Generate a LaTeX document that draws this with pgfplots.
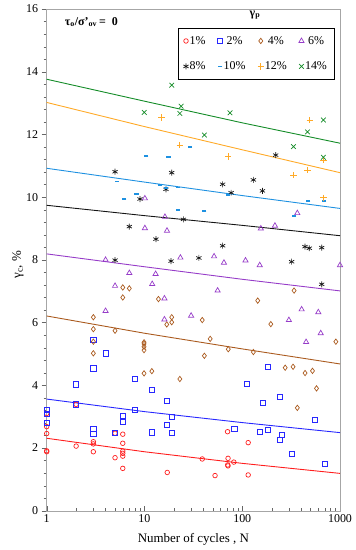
\documentclass[border=0pt]{standalone}
\usepackage{pgfplots}
\pgfplotsset{compat=1.18}
\usepackage{fontspec}
\setmainfont{Liberation Serif}
\definecolor{cRed}{RGB}{255,30,30}
\definecolor{cBlue}{RGB}{40,40,255}
\definecolor{cBrown}{RGB}{170,90,30}
\definecolor{cPurple}{RGB}{150,60,200}
\definecolor{cBlack}{RGB}{20,20,20}
\definecolor{cCyan}{RGB}{30,145,225}
\definecolor{cOrange}{RGB}{255,170,40}
\definecolor{cGreen}{RGB}{20,140,40}
\begin{document}
\begin{tikzpicture}
\begin{axis}[
  scale only axis, width=293.3bp, height=501.7bp,
  xmode=log, xmin=1, xmax=1000, ymin=0, ymax=16,
  xtick={1,10,100,1000}, xticklabels={1,10,100,1000},
  ytick={0,2,...,16}, minor y tick num=4,
  xtick pos=bottom, ytick pos=left,
  /pgf/number format/assume math mode=true,
  tick label style={font=\fontsize{12}{14}\selectfont, black},
  label style={font=\fontsize{13}{15}\selectfont},
  axis line style={draw=gray!70},
  tick style={draw=gray!80!black},
  xtick align=inside, ytick align=outside,
  major tick length=5bp, minor tick length=3bp,
  xlabel={Number of cycles , N},
  xlabel style={at={(axis description cs:0.5,-0.058)}, anchor=center},
  ylabel={γ\textsubscript{c}, \%},
  ylabel style={at={(axis description cs:-0.098,0.49)}, anchor=center},
  legend columns=4,
  legend image code/.code={\draw[#1] plot coordinates {(0bp,0bp)};},
  legend style={draw=black, fill=white, at={(0.98,0.962)}, anchor=north east,
    font=\fontsize{12}{14}\selectfont, row sep=12bp, inner xsep=5bp, inner ysep=6bp,
    /tikz/every odd column/.append style={column sep=-1bp},
    /tikz/every even column/.append style={column sep=10bp}},
  every axis plot/.append style={line width=0.7pt},
]
\coordinate (O) at (rel axis cs:0,0);
% trend lines
\addplot[cRed, line width=0.9pt, forget plot] coordinates {(1,2.31)(10,1.88)(100,1.51)(1000,1.19)};
\addplot[cBlue, line width=0.9pt, forget plot] coordinates {(1,3.56)(10,3.16)(100,2.81)(1000,2.49)};
\addplot[cBrown, line width=0.9pt, forget plot] coordinates {(1,6.21)(10,5.66)(100,5.16)(1000,4.68)};
\addplot[cPurple, line width=0.9pt, forget plot] coordinates {(1,8.19)(10,7.78)(100,7.38)(1000,7.01)};
\addplot[cBlack, line width=0.9pt, forget plot] coordinates {(1,9.74)(10,9.41)(100,9.10)(1000,8.77)};
\addplot[cCyan, line width=0.9pt, forget plot] coordinates {(1,10.92)(10,10.48)(100,10.05)(1000,9.64)};
\addplot[cOrange, line width=0.9pt, forget plot] coordinates {(1,13.02)(10,12.25)(100,11.51)(1000,10.78)};
\addplot[cGreen, line width=0.9pt, forget plot] coordinates {(1,13.76)(10,13.06)(100,12.37)(1000,11.72)};
% 1%
\addplot[only marks, mark=o, mark size=2.3pt, cRed] coordinates {
(1,3.10)(1,2.68)(1,2.46)(1,1.91)(1,1.88)(2,3.39)(2,2.06)(3,2.20)(3,2.13)(3,1.88)
(5,2.47)(5,1.69)(6,2.44)(6,2.15)(6,1.90)(6,1.83)(6,1.74)(6,1.35)(17.1,1.22)(39,1.65)
(52.7,1.12)(70.8,2.52)(71.6,1.67)(82,1.55)(71,1.46)(71.5,1.43)(115,2.17)(115,1.14)};
\addlegendentry{1\%}
% 2%
\addplot[only marks, mark=square, mark size=2.6pt, cBlue] coordinates {
(1,3.21)(1,3.10)(1,2.81)(2,4.03)(2,3.39)(3,5.44)(3,4.54)(3,2.61)(3,2.44)(4,5.02)
(5,2.47)(6,3.03)(6,2.84)(8,4.21)(8,3.21)(11.9,3.85)(12,2.50)(16.9,3.51)(16.9,2.75)
(19,2.99)(19,2.47)(83,2.61)(112,4.04)(151,2.52)(162,3.44)(184,4.59)(184,2.57)
(243,2.25)(244,3.64)(253,2.42)(320,1.81)(548,2.89)(698,1.50)};
\addlegendentry{2\%}
% 4%
\addplot[only marks, mark=diamond, mark size=2.7pt, cBrown] coordinates {
(3,6.17)(3,5.79)(3,5.39)(3,5.02)(5,5.74)(6,7.12)(6,6.80)(7,7.09)(9.9,5.37)(9.9,5.32)
(9.9,5.23)(9.9,5.12)(9.9,4.38)(11.9,4.45)(13.9,6.75)(16.9,5.94)(19,6.17)(19,6.01)
(23,4.20)(39,6.08)(41,4.94)(47,5.48)(72,5.15)(130,5.06)(144,6.70)(196,5.95)(275,4.56)
(331,4.59)(339,7.02)(366,3.28)(439,4.39)(523,4.46)(575,3.90)(907,5.39)};
\addlegendentry{4\%}
% 6%
\addplot[only marks, mark=triangle, mark size=3pt, cPurple] coordinates {
(4,8.0)(4,6.37)(5,7.17)(7,7.58)(10.1,9.96)(10.1,9.01)(12,7.23)(13,7.55)(16.2,9.37)
(16,6.77)(16,6.10)(17,8.93)(23.3,8.07)(30,6.22)(51.5,8.11)(56,7.02)(65,7.91)(108,7.98)
(151,7.83)(155,9.0)(216,9.09)(300,6.08)(366,9.49)(405,6.42)(450,5.38)(600,6.33)
(635,5.66)(1000,7.83)};
\addlegendentry{6\%}
% 8%
\addplot[only marks, mark=asterisk, mark size=3pt, cBlack] coordinates {
(5,10.81)(5,7.99)(7,9.06)(9,9.94)(13.1,8.66)(16.6,10.25)(18.7,7.96)(19,10.78)(25,9.29)
(36,8.06)(63,10.41)(63,8.45)(77,10.14)(130,10.55)(161,10.20)(220,11.34)(320,7.94)
(438,8.42)(485,8.37)(650,8.39)(650,7.22)};
\addlegendentry{8\%}
% 10%
\addplot[only marks, mark=-, mark size=2.2pt, cCyan, mark options={line width=1.8pt}] coordinates {
(5.2,10.50)(6.2,9.93)(8.3,10.09)(10.4,11.32)(14.4,10.38)(16.6,10.28)(17.6,11.27)
(21.9,10.31)(21.9,9.59)(29.2,11.61)(40.7,9.56)(72,10.06)(337,9.40)(472,9.88)(685,9.88)};
\addlegendentry{10\%}
% 12%
\addplot[only marks, mark=+, mark size=3.2pt, cOrange] coordinates {
(15,12.54)(23,11.66)(72,11.29)(334,10.70)(463,10.86)(490,12.46)(675,11.18)(675,9.98)};
\addlegendentry{12\%}
% 14%
\addplot[only marks, mark=x, mark size=3.3pt, cGreen] coordinates {
(9.95,12.70)(19,13.57)(23,12.67)(23.7,12.90)(41,11.98)(75,12.69)(334,11.61)(465,12.08)
(676,12.46)(676,11.27)};
\addlegendentry{14\%}
\node[font=\fontsize{12}{14}\selectfont\bfseries] at (axis description cs:0.71,0.988) {γ\textsubscript{p}};
\node[font=\fontsize{12}{14}\selectfont\bfseries] at (axis description cs:0.152,0.974) {τ\textsubscript{o}/σ'\textsubscript{ov}\,= \ 0};
\end{axis}
\pgfresetboundingbox
\path[use as bounding box] ([xshift=-46.7bp,yshift=-39.3bp]O) rectangle ++(356bp,550bp);
\end{tikzpicture}
\end{document}
